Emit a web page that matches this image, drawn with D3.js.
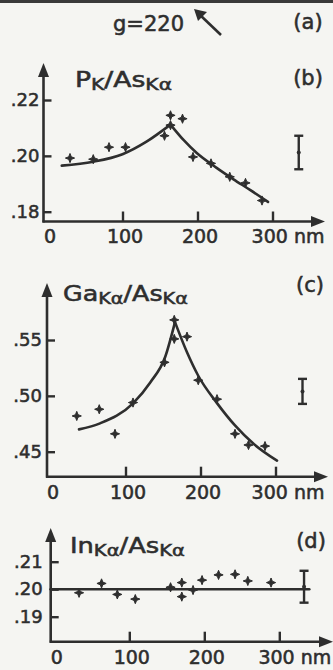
<!DOCTYPE html>
<html>
<head>
<meta charset="utf-8">
<script src="https://cdn.jsdelivr.net/npm/d3@7/dist/d3.min.js"></script>
<style>
  body { margin: 0; background: #f5f5f2; }
  svg { display: block; }
  text { font-family: "DejaVu Sans", sans-serif; fill: #2e2e2e; stroke: #2e2e2e; stroke-width: 0.55px; }
</style>
</head>
<body>
<div class="chart"></div>
<script>
// shared x ticks (nm)
var xTicks = [0, 100, 200, 300];

// (b) P_K / As_Ka
var bYTicks = [0.18, 0.20, 0.22];
var bPointsX = [30, 61, 82, 104, 156, 164, 164, 180, 194, 218, 243, 264, 286];
var bPointsY = [0.1992, 0.1988, 0.2031, 0.2031, 0.2072, 0.2145, 0.2110, 0.2133, 0.1996, 0.1973, 0.1925, 0.1903, 0.1840];
var bFitLeftX = [19, 61, 100, 132, 164];
var bFitLeftY = [0.1965, 0.1979, 0.2006, 0.2051, 0.2112];
var bFitRightX = [164, 182, 199, 225, 248, 270, 294];
var bFitRightY = [0.2112, 0.2055, 0.2010, 0.1958, 0.1916, 0.1878, 0.1835];
var bErr = [335, 0.2012, 0.0060]; // x, centre, half height

// (c) Ga_Ka / As_Ka
var cYTicks = [0.45, 0.50, 0.55];
var cPointsX = [35, 65, 86, 110, 152, 165, 165, 182, 197, 222, 246, 264, 286];
var cPointsY = [0.482, 0.488, 0.466, 0.494, 0.530, 0.568, 0.551, 0.553, 0.514, 0.497, 0.466, 0.456, 0.455];
var cFitLeftX = [38, 66, 110, 133, 153, 166];
var cFitLeftY = [0.470, 0.4754, 0.4933, 0.512, 0.535, 0.566];
var cFitRightX = [166, 182, 197, 222, 246, 270, 302];
var cFitRightY = [0.566, 0.539, 0.518, 0.4935, 0.4735, 0.4575, 0.442];
var cErr = [336, 0.5040, 0.0112];

// (d) In_Ka / As_Ka
var dYTicks = [0.19, 0.20, 0.21];
var dPointsX = [33, 63, 84, 108, 155, 170, 170, 185, 197, 219, 241, 258, 289];
var dPointsY = [0.1987, 0.2021, 0.1981, 0.1964, 0.2007, 0.2024, 0.1973, 0.1997, 0.2033, 0.2052, 0.2054, 0.2030, 0.2024];
var dLineX = [-5, 340];
var dLineY = [0.20, 0.20];
var dErr = [333, 0.2009, 0.0058];

var ink = "#2e2e2e";
var svgWidth = 333;
var svgHeight = 670;

var svg = d3.select(".chart")
  .append("svg")
  .attr("width", svgWidth)
  .attr("height", svgHeight);

svg.append("rect")
  .attr("width", svgWidth).attr("height", svgHeight)
  .attr("fill", "#f5f5f2");

// scan edge at the top
svg.append("rect")
  .attr("x", 0).attr("y", 0).attr("width", svgWidth).attr("height", 3)
  .attr("fill", "#3a3a3a");

// (a) header
svg.append("text")
  .attr("x", 113).attr("y", 31)
  .style("font-size", "21px")
  .text("g=220");

svg.append("line")
  .attr("x1", 221).attr("y1", 35).attr("x2", 199).attr("y2", 14)
  .attr("stroke", ink).attr("stroke-width", 2.6);
svg.append("path")
  .attr("d", "M194,9 L207,12 L198,21 Z")
  .attr("fill", ink);

svg.append("text")
  .attr("x", 308).attr("y", 29)
  .attr("text-anchor", "middle")
  .style("font-size", "21px")
  .text("(a)");

var star = "M0,-4.6 L1.3,-1.3 L4.6,0 L1.3,1.3 L0,4.6 L-1.3,1.3 L-4.6,0 L-1.3,-1.3 Z";

function drawPanel(p) {
  var g = svg.append("g");

  var x = d3.scaleLinear().domain([0, 300]).range([p.x0, p.x0 + 225]);
  var y = d3.scaleLinear().domain([p.yTicks[0], p.yTicks[2]]).range(p.yRange);

  // x axis with ticks pointing up
  var xAxis = d3.axisBottom(x)
    .tickValues(xTicks)
    .tickSize(-10)
    .tickPadding(8.5)
    .tickFormat(d => d === 300 ? "300 nm" : d);

  var xg = g.append("g")
    .attr("transform", `translate(0, ${p.xAxisY})`)
    .attr("color", ink)
    .call(xAxis);
  xg.select(".domain").remove();
  xg.selectAll(".tick line").attr("stroke-width", 2.4)
    .filter(d => d === 0).remove();
  xg.selectAll(".tick text")
    .style("font-size", "19px")
    .style("font-family", "DejaVu Sans")
    .attr("dx", d => d === 300 ? p.nmShift : 2);

  // y axis with ticks pointing right
  var yAxis = d3.axisLeft(y)
    .tickValues(p.yTicks)
    .tickSize(-8)
    .tickPadding(p.yPad)
    .tickFormat(d => d.toFixed(2).replace(/^0/, ""));

  var yg = g.append("g")
    .attr("transform", `translate(${p.axisX}, 0)`)
    .attr("color", ink)
    .call(yAxis);
  yg.select(".domain").remove();
  yg.selectAll(".tick line").attr("stroke-width", 2.4);
  yg.selectAll(".tick text")
    .style("font-size", "18px")
    .style("font-family", "DejaVu Sans");

  // axis lines with arrow heads
  g.append("line")
    .attr("x1", p.axisX - 1).attr("y1", p.xAxisY)
    .attr("x2", p.arrowRight - 10).attr("y2", p.xAxisY)
    .attr("stroke", ink).attr("stroke-width", 2.6);
  g.append("path")
    .attr("d", `M${p.arrowRight},${p.xAxisY} L${p.arrowRight - 14},${p.xAxisY - 5.5} L${p.arrowRight - 14},${p.xAxisY + 5.5} Z`)
    .attr("fill", ink);

  g.append("line")
    .attr("x1", p.axisX).attr("y1", p.xAxisY + 1)
    .attr("x2", p.axisX).attr("y2", p.arrowTop + 10)
    .attr("stroke", ink).attr("stroke-width", 2.6);
  g.append("path")
    .attr("d", `M${p.axisX},${p.arrowTop} L${p.axisX - 5.5},${p.arrowTop + 14} L${p.axisX + 5.5},${p.arrowTop + 14} Z`)
    .attr("fill", ink);

  // fitted curves
  var line = d3.line()
    .x(d => x(d[0]))
    .y(d => y(d[1]))
    .curve(d3.curveMonotoneX);

  p.fits.forEach(function(f) {
    g.append("path")
      .datum(d3.zip(f[0], f[1]))
      .attr("d", line)
      .attr("fill", "none")
      .attr("stroke", ink)
      .attr("stroke-width", 2.6)
      .attr("stroke-linecap", "round");
  });

  // data points
  g.selectAll(".pt")
    .data(d3.zip(p.px, p.py))
    .enter()
    .append("path")
    .attr("class", "pt")
    .attr("d", star)
    .attr("transform", d => `translate(${x(d[0])}, ${y(d[1])})`)
    .attr("fill", ink)
    .attr("stroke", ink)
    .attr("stroke-width", 1);

  // error bar
  var ex = x(p.err[0]);
  var eTop = y(p.err[1] + p.err[2]);
  var eBot = y(p.err[1] - p.err[2]);
  g.append("line")
    .attr("x1", ex).attr("x2", ex).attr("y1", eTop).attr("y2", eBot)
    .attr("stroke", ink).attr("stroke-width", 2.4);
  [eTop, eBot].forEach(function(v) {
    g.append("line")
      .attr("x1", ex - 4.5).attr("x2", ex + 4.5).attr("y1", v).attr("y2", v)
      .attr("stroke", ink).attr("stroke-width", 2.4);
  });
  g.append("circle")
    .attr("cx", ex).attr("cy", y(p.err[1])).attr("r", 2)
    .attr("fill", ink);

  // quantity label
  var t = g.append("text")
    .attr("x", p.labelX).attr("y", p.labelY)
    .attr("textLength", p.labelW)
    .attr("lengthAdjust", "spacingAndGlyphs");
  p.label.forEach(function(part, i) {
    var prevSub = i > 0 && p.label[i - 1][1];
    t.append("tspan")
      .style("font-size", part[1] ? "16px" : "21px")
      .attr("dy", part[1] && !prevSub ? 3 : (!part[1] && prevSub ? -3 : 0))
      .text(part[0]);
  });

  // panel letter
  g.append("text")
    .attr("x", p.letterX).attr("y", p.letterY)
    .attr("text-anchor", "middle")
    .style("font-size", "21px")
    .text(p.letter);
}

drawPanel({
  x0: 47.5, axisX: 43.5, xAxisY: 221.5, arrowTop: 63, arrowRight: 325,
  yTicks: bYTicks, yRange: [211.7, 100], yPad: 4, nmShift: 15,
  px: bPointsX, py: bPointsY,
  fits: [[bFitLeftX, bFitLeftY], [bFitRightX, bFitRightY]],
  err: bErr,
  label: [["P", 0], ["K", 1], ["/As", 0], ["K\u03b1", 1]],
  labelX: 75, labelY: 87, labelW: 97,
  letter: "(b)", letterX: 308, letterY: 85
});

drawPanel({
  x0: 50.5, axisX: 47, xAxisY: 476.7, arrowTop: 283, arrowRight: 328,
  yTicks: cYTicks, yRange: [451.7, 340], yPad: 5, nmShift: 12,
  px: cPointsX, py: cPointsY,
  fits: [[cFitLeftX, cFitLeftY], [cFitRightX, cFitRightY]],
  err: cErr,
  label: [["Ga", 0], ["K\u03b1", 1], ["/As", 0], ["K\u03b1", 1]],
  labelX: 63, labelY: 301, labelW: 125,
  letter: "(c)", letterX: 310, letterY: 292
});

drawPanel({
  x0: 54.3, axisX: 50.7, xAxisY: 641.7, arrowTop: 528, arrowRight: 333,
  yTicks: dYTicks, yRange: [616.7, 561.7], yPad: 8, nmShift: 15,
  px: dPointsX, py: dPointsY,
  fits: [[dLineX, dLineY]],
  err: dErr,
  label: [["In", 0], ["K\u03b1", 1], ["/As", 0], ["K\u03b1", 1]],
  labelX: 70, labelY: 553, labelW: 115,
  letter: "(d)", letterX: 311, letterY: 548
});
</script>
</body>
</html>
